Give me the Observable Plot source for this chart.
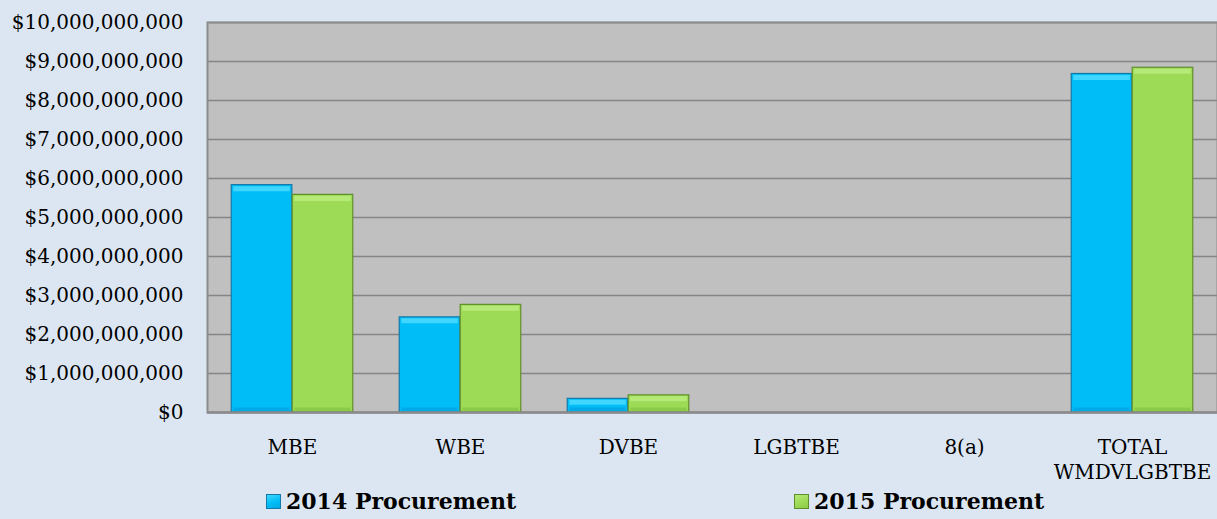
<!DOCTYPE html>
<html>
<head>
<meta charset="utf-8">
<script src="https://cdn.jsdelivr.net/npm/d3@7"></script>
<script src="https://cdn.jsdelivr.net/npm/@observablehq/plot@0.6"></script>
<style>
  html, body { margin: 0; padding: 0; background: #dce6f2; }
  #wrap { position: relative; width: 1217px; height: 519px; overflow: hidden; }
  .leg { position: absolute; top: 488px; display: flex; align-items: center;
         font-family: "DejaVu Serif", serif; font-weight: bold; font-size: 22px; color: #000; }
  .sw { width: 15px; height: 15px; margin-right: 5px; box-sizing: border-box; }
</style>
</head>
<body>
<div id="wrap"></div>
<script>
const categories = ["MBE", "WBE", "DVBE", "LGBTBE", "8(a)", "TOTAL\nWMDVLGBTBE"];
const series = ["2014 Procurement", "2015 Procurement"];
const values2014 = [5.83e9, 2.44e9, 0.35e9, 0, 0, 8.68e9];
const values2015 = [5.58e9, 2.76e9, 0.44e9, 0, 0, 8.84e9];
const yTicks = [0,1e9,2e9,3e9,4e9,5e9,6e9,7e9,8e9,9e9,1e10];

const fills = ["#00bdf7", "#9dda56"];
const strokes = ["#137aa8", "#5f8f2c"];
const lights = ["#3fd6ff", "#b5ea78"];
const darks = ["#00aae6", "#8ccb4a"];

const W = 1217, mL = 207, mR = 0;
const step = (W - mL - mR) / categories.length;
const barW = step * 0.362;
const outer = (step - 2 * barW) / 2;

const rows = [];
categories.forEach((c, i) => {
  rows.push({cat: c, s: 0, v: values2014[i]});
  rows.push({cat: c, s: 1, v: values2015[i]});
});
const ins = s => s === 0
  ? {insetLeft: outer, insetRight: step - outer - barW}
  : {insetLeft: outer + barW, insetRight: outer};

const marks = [
  Plot.frame({fill: "#c0c0c0", stroke: null}),
  Plot.gridY(yTicks, {stroke: "#858585", strokeOpacity: 1, strokeWidth: 1.7})
];
[0, 1].forEach(s => {
  const d = rows.filter(r => r.s === s && r.v > 0);
  marks.push(Plot.barY(d, {x: "cat", y: "v", fill: fills[s], stroke: strokes[s], strokeWidth: 1.2, ...ins(s)}));
  marks.push(Plot.tickY(d, {x: "cat", y: "v", stroke: lights[s], strokeWidth: 5, dy: 3.5, insetLeft: ins(s).insetLeft + 2, insetRight: ins(s).insetRight + 2}));
  marks.push(Plot.tickY(d, {x: "cat", y: 0, stroke: darks[s], strokeWidth: 4, dy: -3, insetLeft: ins(s).insetLeft + 2, insetRight: ins(s).insetRight + 2}));
});
marks.push(Plot.ruleY([0], {stroke: "#7a7a7a", strokeWidth: 2}));
marks.push(Plot.frame({stroke: "#8c8c8c", strokeWidth: 2, fill: null}));
marks.push(Plot.axisY({ticks: yTicks, tickSize: 0, tickPadding: 24, tickFormat: v => "$" + d3.format(",")(v), fontSize: 20}));
marks.push(Plot.axisX({tickSize: 0, tickPadding: 24, fontSize: 20, lineHeight: 1.25, lineAnchor: "top"}));

const chart = Plot.plot({
  width: W,
  height: 486,
  marginTop: 22,
  marginBottom: 74,
  marginLeft: mL,
  marginRight: mR,
  x: {type: "band", domain: categories, padding: 0, label: null},
  y: {domain: [0, 1e10], label: null},
  style: {fontFamily: "DejaVu Serif", fontSize: "20px", background: "transparent", color: "#000", overflow: "visible"},
  marks
});
const wrap = document.getElementById("wrap");
wrap.appendChild(chart);

const legendPos = [266, 794];
series.forEach((name, i) => {
  const item = document.createElement("div");
  item.className = "leg";
  item.style.left = legendPos[i] + "px";
  const sw = document.createElement("div");
  sw.className = "sw";
  sw.style.background = `linear-gradient(160deg, ${lights[i]} 0%, ${fills[i]} 55%, ${darks[i]} 100%)`;
  sw.style.border = `1px solid ${strokes[i]}`;
  const label = document.createElement("span");
  label.textContent = name;
  item.appendChild(sw);
  item.appendChild(label);
  wrap.appendChild(item);
});
</script>
</body>
</html>
